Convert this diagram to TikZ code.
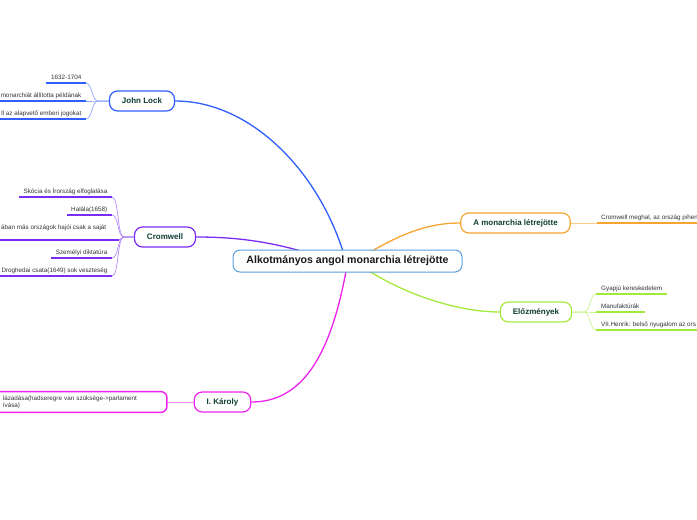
\documentclass[tikz,border=0pt]{standalone}
\usepackage{fontspec}
\setmainfont{Liberation Sans}
\usetikzlibrary{positioning,calc,backgrounds}

\definecolor{rootblue}{HTML}{5AA0DC}
\definecolor{lockblue}{HTML}{2F5FFF}
\definecolor{cromviolet}{HTML}{7A2CF2}
\definecolor{karmagenta}{HTML}{EE22EE}
\definecolor{monorange}{HTML}{F7A530}
\definecolor{elogreen}{HTML}{A2EA3A}
\definecolor{topictext}{HTML}{0E3D33}
\definecolor{itemtext}{HTML}{333333}

\begin{document}
\begin{tikzpicture}[
  x=1pt, y=-1pt,
  root/.style={draw=rootblue, line width=1pt, rounded corners=7pt, fill=white, minimum width=229pt, minimum height=22pt, font=\fontsize{10.6}{12}\selectfont\bfseries, text=black!90},
  topic/.style={draw=#1, line width=1.2pt, rounded corners=8pt, fill=white, minimum height=20pt, inner xsep=12.5pt, font=\fontsize{8}{9}\selectfont\bfseries, text=topictext},
  detail/.style={draw=karmagenta, line width=1.4pt, rounded corners=6pt, fill=white, text width=150pt, inner xsep=14pt, inner ysep=4pt, align=left, font=\fontsize{6.3}{6.8}\selectfont, text=itemtext},
  item/.style={inner sep=0pt, font=\fontsize{6.3}{7.5}\selectfont, text=itemtext},
  branch/.style={draw=#1, line width=1.3pt},
  fan/.style={draw=#1!55, line width=0.7pt},
  uline/.style={draw=#1, line width=1.8pt}
]
\useasboundingbox (0,0) rectangle (697,520);
\clip (0,0) rectangle (697,520);

% central topic
\node[root] (root) at (347.5,261) {Alkotmányos angol monarchia létrejötte};

% main topics
\node[topic=lockblue] (lock) at (142,101) {John Lock};
\node[topic=cromviolet] (crom) at (165,237) {Cromwell};
\node[topic=karmagenta] (kar) at (222.5,402) {I. Károly};
\node[topic=monorange] (mon) at (515.5,223) {A monarchia létrejötte};
\node[topic=elogreen] (elo) at (536,312) {Előzmények};

% branches behind the boxes
\begin{scope}[on background layer]
\draw[branch=lockblue] ($(root.north)+(-3.5,5)$) .. controls (318,170) and (250,101) .. (lock.east);
\draw[branch=cromviolet] ($(root.north)+(-38,4)$) .. controls (265,240) and (230,237) .. (crom.east);
\draw[branch=karmagenta] ($(root.south)+(-1,-4)$) .. controls (330,360) and (300,402) .. (kar.east);
\draw[branch=monorange] ($(root.north)+(20,4)$) .. controls (398,236) and (425,223) .. (mon.west);
\draw[branch=elogreen] ($(root.south)+(18,-4)$) .. controls (400,292) and (455,312) .. (elo.west);
\end{scope}

% John Lock
\coordinate (lockfork) at (98,101);
\coordinate (lock1) at (86,83);
\coordinate (lock2) at (86,101);
\coordinate (lock3) at (86,119);
\node[item, anchor=base east] (lock1t) at ($(lock1)+(-4.5,-3.5)$) {1632-1704};
\node[item, anchor=base east] (lock2t) at ($(lock2)+(-4.5,-3.5)$) {monarchiát állította példának};
\node[item, anchor=base east] (lock3t) at ($(lock3)+(-4.5,-3.5)$) {ll az alapvető emberi jogokat};
\draw[fan=lockblue] (lock.west) -- (lockfork) .. controls +(-6,0) and +(6,0) .. (lock1);
\draw[fan=lockblue] (lock.west) -- (lockfork) -- (lock2);
\draw[fan=lockblue] (lock.west) -- (lockfork) .. controls +(-6,0) and +(6,0) .. (lock3);
\draw[uline=lockblue] (lock1) -- ($(lock1 -| lock1t.west)+(-4.5,0)$);
\draw[uline=lockblue] (lock2) -- ($(lock2 -| lock2t.west)+(-4.5,0)$);
\draw[uline=lockblue] (lock3) -- ($(lock3 -| lock3t.west)+(-4.5,0)$);

% Cromwell
\coordinate (cromfork) at (124,237);
\coordinate (crom1) at (112,197);
\coordinate (crom2) at (112,215);
\coordinate (crom3) at (119,240);
\coordinate (crom4) at (112,258);
\coordinate (crom5) at (112,276);
\node[item, anchor=base east] (crom1t) at ($(crom1)+(-4.5,-3.5)$) {Skócia és Írország elfoglalása};
\node[item, anchor=base east] (crom2t) at ($(crom2)+(-4.5,-3.5)$) {Halála(1658)};
\node[item, anchor=base west] (crom3t) at (1,229.5) {ában más országok hajói csak a saját};
\node[item, anchor=base east] (crom4t) at ($(crom4)+(-4.5,-3.5)$) {Személyi diktatúra};
\node[item, anchor=base east] (crom5t) at ($(crom5)+(-4.5,-3.5)$) {Droghedai csata(1649) sok veszteség};
\draw[fan=cromviolet] (crom.west) -- (cromfork) .. controls +(-7,0) and +(7,0) .. (crom1);
\draw[fan=cromviolet] (crom.west) -- (cromfork) .. controls +(-7,0) and +(7,0) .. (crom2);
\draw[fan=cromviolet] (crom.west) -- (cromfork) .. controls +(-3,0) and +(2,0) .. (crom3);
\draw[fan=cromviolet] (crom.west) -- (cromfork) .. controls +(-7,0) and +(7,0) .. (crom4);
\draw[fan=cromviolet] (crom.west) -- (cromfork) .. controls +(-7,0) and +(7,0) .. (crom5);
\draw[uline=cromviolet] (crom1) -- ($(crom1 -| crom1t.west)+(-4.5,0)$);
\draw[uline=cromviolet] (crom2) -- ($(crom2 -| crom2t.west)+(-4.5,0)$);
\draw[uline=cromviolet] (crom3) -- ($(crom3 -| crom3t.west)+(-4.5,0)$);
\draw[uline=cromviolet] (crom4) -- ($(crom4 -| crom4t.west)+(-4.5,0)$);
\draw[uline=cromviolet] (crom5) -- ($(crom5 -| crom5t.west)+(-4.5,0)$);

% I. Karoly
\node[detail, left=26pt of kar] (kardet) {lázadása(hadseregre van szüksége->parlament\\ívása)};
\draw[fan=karmagenta] (kar.west) -- (kardet.east);

% A monarchia letrejotte
\coordinate (mon1) at (597,223);
\node[item, anchor=base west] (mon1t) at ($(mon1)+(4,-3.5)$) {Cromwell meghal, az ország pihen};
\draw[fan=monorange] (mon.east) -- (mon1);
\draw[uline=monorange] (mon1) -- ($(mon1)+(110,0)$);

% Elozmenyek
\coordinate (elofork) at (584,312);
\coordinate (elo1) at (596,294);
\coordinate (elo2) at (596,312);
\coordinate (elo3) at (596,330);
\node[item, anchor=base west] (elo1t) at ($(elo1)+(5,-3.5)$) {Gyapjú kereskedelem};
\node[item, anchor=base west] (elo2t) at ($(elo2)+(5,-3.5)$) {Manufaktúrák};
\node[item, anchor=base west] (elo3t) at ($(elo3)+(5,-3.5)$) {VII.Henrik: belső nyugalom az ors};
\draw[fan=elogreen] (elo.east) -- (elofork) .. controls +(6,0) and +(-6,0) .. (elo1);
\draw[fan=elogreen] (elo.east) -- (elofork) -- (elo2);
\draw[fan=elogreen] (elo.east) -- (elofork) .. controls +(6,0) and +(-6,0) .. (elo3);
\draw[uline=elogreen] (elo1) -- ($(elo1 -| elo1t.east)+(5,0)$);
\draw[uline=elogreen] (elo2) -- ($(elo2 -| elo2t.east)+(5,0)$);
\draw[uline=elogreen] (elo3) -- ($(elo3)+(110,0)$);

\end{tikzpicture}
\end{document}
